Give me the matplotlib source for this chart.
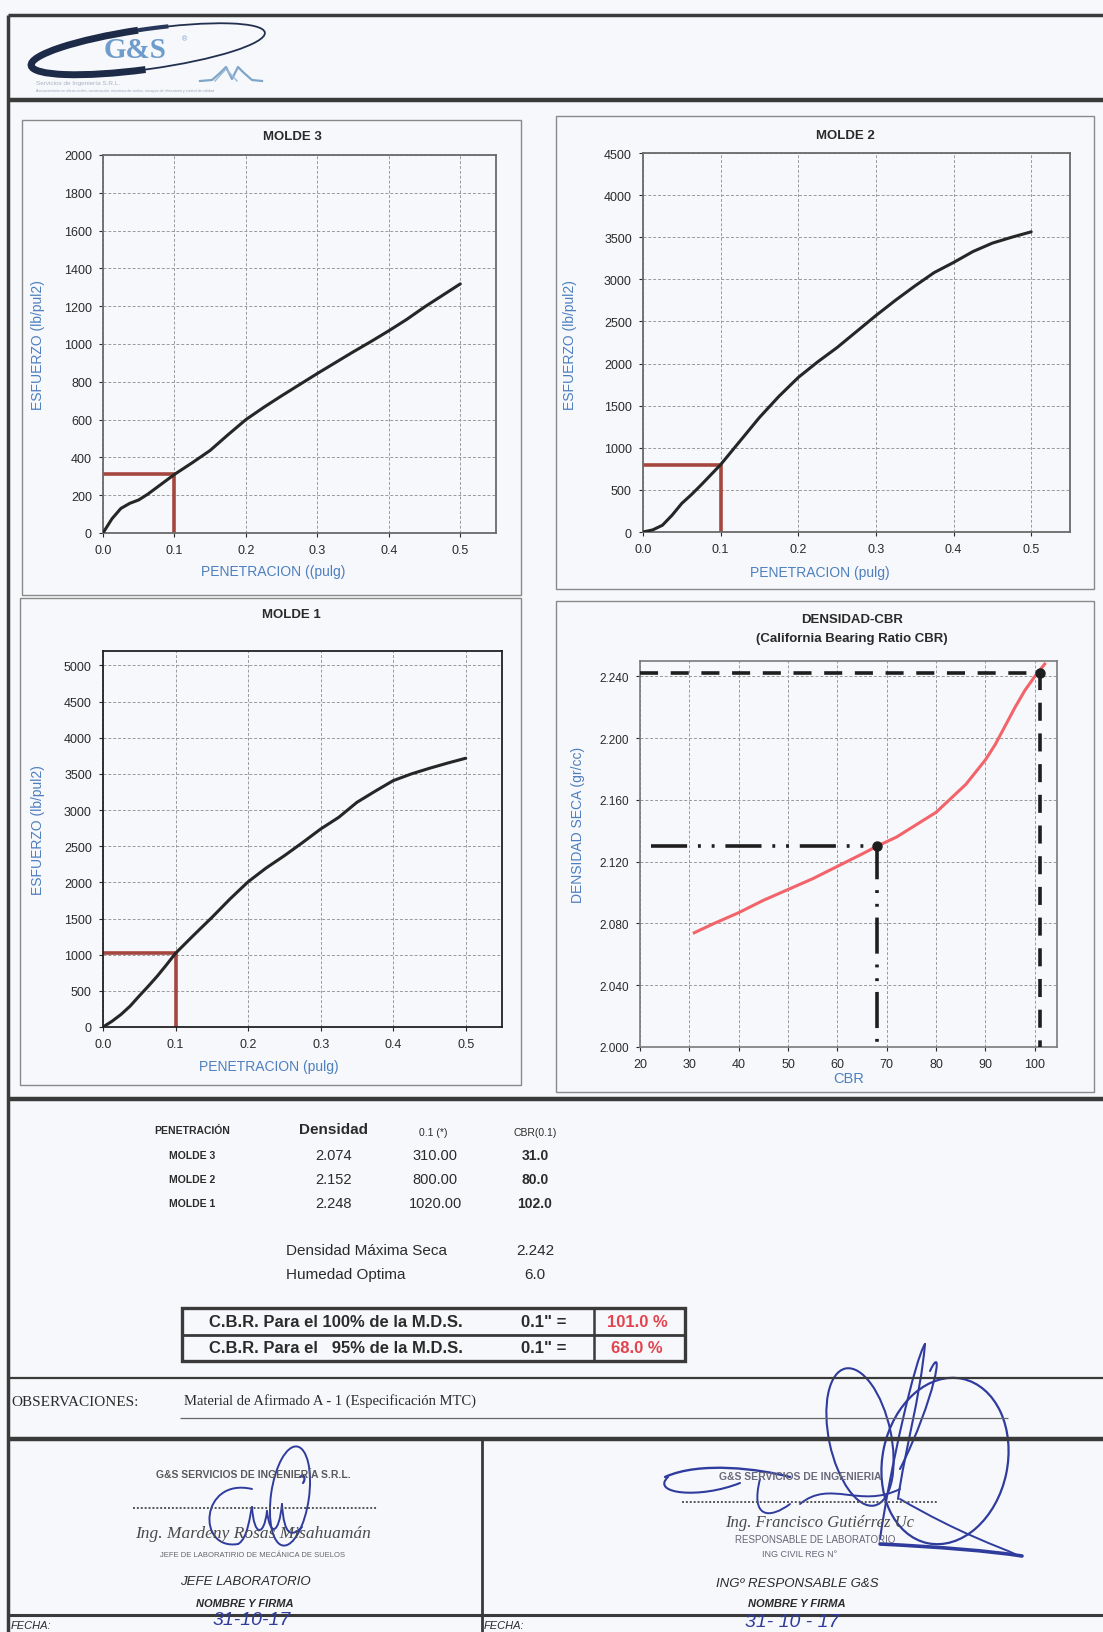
import numpy as np
import matplotlib
matplotlib.use("Agg")
import matplotlib.pyplot as plt
from matplotlib.path import Path
from matplotlib.patches import PathPatch, Ellipse, Rectangle, Arc

# ---------------------------------------------------------------- data
penetration = [0.0, 0.0125, 0.025, 0.0375, 0.05, 0.0625, 0.075, 0.0875, 0.1,
               0.125, 0.15, 0.175, 0.2, 0.225, 0.25, 0.275, 0.3, 0.325, 0.35,
               0.375, 0.4, 0.425, 0.45, 0.475, 0.5]
molde3_stress = [0, 75, 130, 157, 175, 205, 240, 275, 310,
                 372, 437, 520, 600, 665, 726, 785, 844, 901, 958,
                 1013, 1070, 1130, 1196, 1257, 1318]
molde2_stress = [0, 25, 80, 200, 340, 445, 560, 680, 800,
                 1080, 1360, 1610, 1835, 2020, 2190, 2380, 2570, 2750, 2920,
                 3080, 3200, 3330, 3430, 3500, 3564]
molde1_stress = [0, 80, 175, 290, 430, 565, 706, 860, 1020,
                 1270, 1514, 1770, 2008, 2200, 2369, 2550, 2738, 2900, 3107,
                 3260, 3407, 3500, 3578, 3650, 3717]

molde_names = ["MOLDE 3", "MOLDE 2", "MOLDE 1"]
molde_density = [2.074, 2.152, 2.248]
molde_load_01 = [310.00, 800.00, 1020.00]
molde_cbr_01 = [31.0, 80.0, 102.0]

cbr_curve = [31.0, 35.0, 40.0, 45.0, 50.0, 55.0, 60.0, 65.0, 68.0, 72.0, 76.0,
             80.0, 82.0, 84.0, 86.0, 88.0, 90.0, 92.0, 94.0, 96.0, 98.0, 100.0, 102.0]
dens_curve = [2.074, 2.080, 2.087, 2.095, 2.102, 2.109, 2.117, 2.125, 2.130, 2.136, 2.144,
              2.152, 2.158, 2.164, 2.170, 2.178, 2.186, 2.196, 2.208, 2.220, 2.231, 2.240, 2.248]

max_dry_density = 2.242
optimum_moisture = 6.0
cbr_100 = 101.0
cbr_95 = 68.0

# ---------------------------------------------------------------- page
W, H = 1103, 1633
PAGE = "#f7f8fb"
SANS = "Liberation Sans"
SERIF = "Liberation Serif"
BLUE_LBL = "#4d7fbf"
INK = "#2f3c9e"

plt.rcParams["font.family"] = [SANS, "DejaVu Sans"]

fig = plt.figure(figsize=(W / 100, H / 100), dpi=100, facecolor=PAGE)

ov = fig.add_axes([0, 0, 1, 1])
ov.set_xlim(0, W)
ov.set_ylim(H, 0)
ov.axis("off")
ov.patch.set_alpha(0)


def rect(l, t, r, b):
    return [l / W, 1 - b / H, (r - l) / W, (b - t) / H]


def hline(y, x0, x1, lw=2.5, color="#3a3a3a", **kw):
    ov.plot([x0, x1], [y, y], color=color, lw=lw, solid_capstyle="butt", **kw)


def vline(x, y0, y1, lw=2.5, color="#3a3a3a", **kw):
    ov.plot([x, x], [y0, y1], color=color, lw=lw, solid_capstyle="butt", **kw)


def box(l, t, r, b, lw=1.0, color="#8a8a8a"):
    ov.add_patch(Rectangle((l, t), r - l, b - t, fill=False, lw=lw, ec=color))


def txt(x, y, s, size=10, ha="center", va="center", **kw):
    ov.text(x, y, s, fontsize=size, ha=ha, va=va, **kw)


# page frame
vline(8, 16, H, lw=2.5)
hline(16, 8, W, lw=2.5)
hline(101, 8, W, lw=3.2)
hline(1100, 8, W, lw=3.2)
hline(1379, 8, W, lw=1.6)
hline(1440, 8, W, lw=3.2)
vline(482, 1440, H, lw=2.0)
hline(1616, 8, W, lw=2.2)

# chart panels
box(22, 121, 521, 596)
box(556, 117, 1094, 590)
box(20, 599, 521, 1086)
box(556, 602, 1094, 1093)

# ---------------------------------------------------------------- logo
ov.add_patch(Ellipse((148, 50), 236, 40, angle=-8, fill=False, lw=1.3, ec="#22304f"))
ov.add_patch(Arc((148, 50), 236, 40, angle=-8, theta1=105, theta2=250, lw=5, color="#1d2a48"))
ov.add_patch(Arc((148, 50), 236, 40, angle=-8, theta1=250, theta2=320, lw=3, color="#27375c"))
txt(135, 50, "G&S", size=21, family=SERIF, weight="bold", color="#6e9ccb")
txt(185, 40, "®", size=5, color="#6e9ccb")
wave_x = [200, 212, 220, 226, 232, 238, 244, 252, 262]
wave_y = [82, 81, 74, 68, 80, 68, 74, 81, 82]
ov.plot(wave_x, wave_y, color="#7fa6c9", lw=1.6)
ov.plot([215, 226, 237], [82, 70, 82], color="#9bbad6", lw=1.0)
txt(36, 84, "Servicios de Ingeniería S.R.L.", size=4.6, ha="left", color="#a9b2c4")
txt(36, 91, "Asesoramiento en obras civiles, construcción, mecánica de suelos, ensayos de laboratorio y control de calidad",
    size=2.6, ha="left", color="#9aa6ba")

# ---------------------------------------------------------------- load / penetration charts
GRID = dict(color="#9a9a9a", lw=0.7, ls=(0, (3, 2)))


def load_chart(pos, stress, load01, ymax, ystep, ytop, title, title_xy, xlabel, xlabel_xy, ylabel_xy, spine="#6a6a6a"):
    ax = fig.add_axes(pos)
    ax.patch.set_alpha(0)
    ax.plot(penetration, stress, color="#262626", lw=2.2, zorder=3,
            solid_capstyle="round", solid_joinstyle="round")
    ax.plot([0, 0.1, 0.1], [load01, load01, 0], color="#a5473f", lw=2.6, zorder=2)
    ax.set_xlim(0, 0.55)
    ax.set_ylim(0, ytop)
    ax.set_xticks(np.arange(0, 0.51, 0.1))
    ax.set_xticklabels([f"{v:.1f}" for v in np.arange(0, 0.51, 0.1)])
    ax.set_yticks(np.arange(0, ymax + 1, ystep))
    ax.set_yticklabels([f"{int(v)}" for v in np.arange(0, ymax + 1, ystep)])
    ax.grid(True, **GRID)
    ax.tick_params(labelsize=9, colors="#2a2a2a", length=3, width=0.8, pad=5)
    for s in ax.spines.values():
        s.set_color(spine)
        s.set_linewidth(1.3)
    txt(*title_xy, title, size=9.5, weight="bold", color="#2a2a2a")
    txt(*xlabel_xy, xlabel, size=10, color=BLUE_LBL)
    txt(*ylabel_xy, "ESFUERZO (lb/pul2)", size=10, color=BLUE_LBL, rotation=90)
    return ax


load_chart(rect(103, 156, 496, 534), molde3_stress, molde_load_01[0], 2000, 200, 2000,
           molde_names[0], (292, 137), "PENETRACION ((pulg)", (273, 572), (38, 345))
load_chart(rect(643, 154, 1070, 533), molde2_stress, molde_load_01[1], 4500, 500, 4500,
           molde_names[1], (845, 136), "PENETRACION (pulg)", (820, 573), (570, 345))
load_chart(rect(103, 652, 502, 1028), molde1_stress, molde_load_01[2], 5000, 500, 5200,
           molde_names[2], (291, 615), "PENETRACION (pulg)", (269, 1067), (38, 830), spine="#222222")

# ---------------------------------------------------------------- density - CBR chart
ax = fig.add_axes(rect(640, 662, 1057, 1048))
ax.patch.set_alpha(0)
ax.plot(cbr_curve, dens_curve, color="#f2636a", lw=2.2, zorder=3, solid_joinstyle="round")
ax.plot([20, cbr_100, cbr_100], [max_dry_density, max_dry_density, 2.0],
        color="#1e1e1e", lw=2.6, ls=(0, (5, 3.5)), zorder=4)
dens_95 = 0.95 * max_dry_density
ax.plot([22.3, cbr_95, cbr_95], [dens_95, dens_95, 2.0],
        color="#1e1e1e", lw=2.6, ls=(0, (10, 3, 0.8, 3, 0.8, 3)), zorder=4)
ax.plot([cbr_100, cbr_95], [max_dry_density, dens_95], ls="none", marker="o",
        ms=6.5, color="#1e1e1e", zorder=5)
ax.set_xlim(20, 104.5)
ax.set_ylim(2.0, 2.25)
ax.set_xticks(np.arange(20, 101, 10))
ax.set_yticks(np.arange(2.0, 2.241, 0.04))
ax.set_yticklabels([f"{v:.3f}" for v in np.arange(2.0, 2.241, 0.04)])
ax.grid(True, **GRID)
ax.tick_params(labelsize=9, colors="#2a2a2a", length=3, width=0.8, pad=5)
ax.tick_params(axis="y", labelsize=8.5)
for s in ax.spines.values():
    s.set_color("#7a7a7a")
    s.set_linewidth(1.2)
txt(852, 620, "DENSIDAD-CBR", size=9.5, weight="bold", color="#2a2a2a")
txt(852, 639, "(California Bearing Ratio CBR)", size=9.5, weight="bold", color="#2a2a2a")
txt(849, 1079, "CBR", size=10.5, color=BLUE_LBL)
txt(578, 825, "DENSIDAD SECA (gr/cc)", size=10, color=BLUE_LBL, rotation=90)

# ---------------------------------------------------------------- results table
DARK = "#2b2b2b"
txt(192, 1131, "PENETRACIÓN", size=7.5, weight="bold", color=DARK)
txt(334, 1130, "Densidad", size=11, weight="bold", color=DARK)
txt(433, 1133, "0.1 (*)", size=7.5, color=DARK)
txt(535, 1133, "CBR(0.1)", size=7.5, color=DARK)
for i, name in enumerate(molde_names):
    y = 1156 + i * 24
    txt(192, y, name, size=7.5, weight="bold", color=DARK)
    txt(334, y, f"{molde_density[i]:.3f}", size=10.5, color=DARK)
    txt(435, y, f"{molde_load_01[i]:.2f}", size=10.5, color=DARK)
    txt(535, y, f"{molde_cbr_01[i]:.1f}", size=10, weight="bold", color=DARK)

txt(286, 1251, "Densidad Máxima Seca", size=11, ha="left", color=DARK)
txt(535, 1251, f"{max_dry_density:.3f}", size=11, color=DARK)
txt(286, 1275, "Humedad Optima", size=11, ha="left", color=DARK)
txt(535, 1275, f"{optimum_moisture:.1f}", size=11, color=DARK)

ov.add_patch(Rectangle((182, 1309), 685 - 182, 1362 - 1309, fill=False, lw=2.4, ec="#3a3a3a"))
hline(1336, 182, 685, lw=2.0)
vline(594, 1309, 1362, lw=1.8)
txt(336, 1323, "C.B.R. Para el 100% de la M.D.S.", size=12, weight="bold", color=DARK)
txt(336, 1349, "C.B.R. Para el   95% de la M.D.S.", size=12, weight="bold", color=DARK)
txt(544, 1323, '0.1" =', size=12, weight="bold", color=DARK)
txt(544, 1349, '0.1" =', size=12, weight="bold", color=DARK)
txt(637, 1323, f"{cbr_100:.1f} %", size=12, weight="bold", color="#e2434f")
txt(637, 1349, f"{cbr_95:.1f} %", size=12, weight="bold", color="#e2434f")

# ---------------------------------------------------------------- observations
txt(11, 1403, "OBSERVACIONES:", size=11, ha="left", family=SERIF, color=DARK)
txt(184, 1401, "Material de Afirmado A - 1 (Especificación MTC)", size=10.5, ha="left",
    family=SERIF, color=DARK)
hline(1419, 180, 1008, lw=0.9, color="#666666")

# ---------------------------------------------------------------- signature block
GREY = "#4a4a4a"
txt(253, 1475, "G&S SERVICIOS DE INGENIERÍA S.R.L.", size=7.5, weight="bold", color="#5a5a5a")
hline(1509, 133, 377, lw=1.4, color="#555555", ls=(0, (1, 1)))
txt(253, 1534, "Ing. Mardeny Rosas Misahuamán", size=12.5, family=SERIF, style="italic", color=GREY)
txt(253, 1556, "JEFE DE LABORATIRIO DE MECÁNICA DE SUELOS", size=5.5, color="#666666")
txt(245, 1582, "JEFE LABORATORIO", size=9.5, style="italic", color=DARK)
txt(245, 1604, "NOMBRE Y FIRMA", size=8, style="italic", weight="bold", color=DARK)
txt(11, 1626, "FECHA:", size=8, ha="left", style="italic", color=DARK)
txt(484, 1626, "FECHA:", size=8, ha="left", style="italic", color=DARK)

txt(800, 1477, "G&S SERVICIOS DE INGENIERIA", size=7.5, weight="bold", color="#6a6a7a")
hline(1503, 682, 937, lw=1.4, color="#555555", ls=(0, (1, 1)))
txt(820, 1523, "Ing. Francisco Gutiérrez Uc", size=12, family=SERIF, style="italic", color=GREY)
txt(815, 1540, "RESPONSABLE DE LABORATORIO", size=7, color="#666677")
txt(800, 1555, "ING CIVIL REG N°", size=6.5, color="#666677")
txt(797, 1584, "INGº RESPONSABLE G&S", size=9.5, style="italic", color=DARK)
txt(797, 1604, "NOMBRE Y FIRMA", size=8, style="italic", weight="bold", color=DARK)

# handwritten dates
txt(252, 1621, "31-10-17", size=14, style="italic", color=INK)
txt(792, 1623, "31- 10 - 17", size=14, style="italic", color=INK)


def stroke(points, lw=1.4, color=INK):
    pts = np.asarray(points, dtype=float)
    codes = [Path.MOVETO] + [Path.CURVE4] * (len(pts) - 1)
    ov.add_patch(PathPatch(Path(pts, codes), fill=False, lw=lw, ec=color, capstyle="round"))


# left signature
ov.add_patch(Ellipse((290, 1497), 38, 100, angle=8, fill=False, lw=1.4, ec=INK))
stroke([(252, 1490), (200, 1478), (196, 1552), (238, 1545)])
stroke([(238, 1545), (248, 1540), (250, 1515), (252, 1508)])
stroke([(252, 1508), (254, 1538), (264, 1538), (267, 1512)])
stroke([(267, 1512), (270, 1538), (279, 1536), (282, 1505)])
stroke([(282, 1505), (284, 1538), (292, 1538), (302, 1528)])
stroke([(300, 1478), (304, 1474), (306, 1480), (303, 1484)], lw=1.6)

# right signature
ov.add_patch(Ellipse((945, 1462), 125, 168, angle=12, fill=False, lw=1.6, ec=INK))
ov.add_patch(Ellipse((860, 1438), 62, 140, angle=-12, fill=False, lw=1.5, ec=INK))
stroke([(880, 1540), (890, 1470), (915, 1360), (925, 1345)], lw=1.5)
stroke([(925, 1345), (920, 1400), (905, 1450), (898, 1500)], lw=1.5)
stroke([(900, 1470), (935, 1400), (945, 1340), (930, 1372)], lw=1.5)
stroke([(665, 1478), (700, 1462), (760, 1470), (790, 1478)], lw=1.7)
stroke([(668, 1478), (650, 1495), (700, 1500), (740, 1484)], lw=1.5)
stroke([(760, 1480), (750, 1520), (770, 1520), (790, 1505)], lw=1.4)
stroke([(800, 1505), (830, 1480), (860, 1510), (900, 1490)], lw=1.4)
stroke([(880, 1545), (940, 1548), (990, 1552), (1022, 1557)], lw=2.6)
stroke([(900, 1500), (960, 1535), (1000, 1548), (1015, 1555)], lw=1.4)

fig.savefig("out.png", dpi=100, facecolor=PAGE)
